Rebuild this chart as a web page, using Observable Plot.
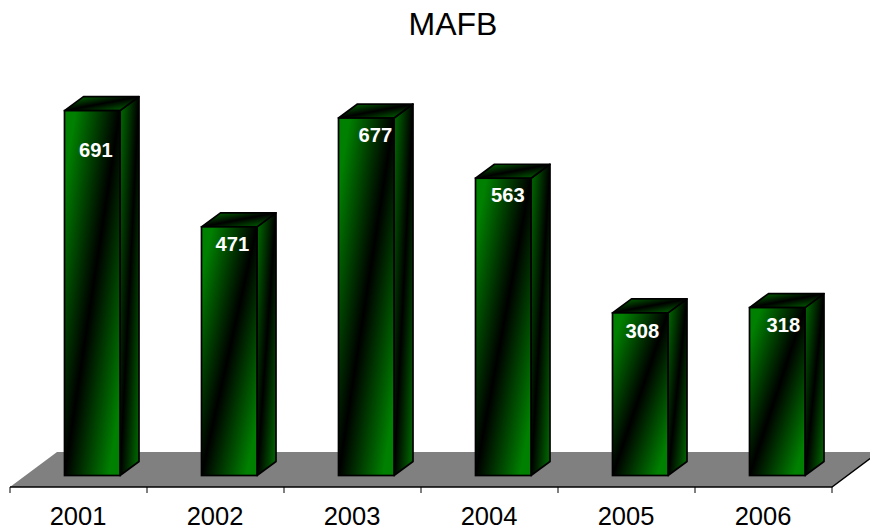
<!DOCTYPE html>
<html>
<head>
<meta charset="utf-8">
<script src="https://cdn.jsdelivr.net/npm/d3@7"></script>
<script src="https://cdn.jsdelivr.net/npm/@observablehq/plot@0.6"></script>
<style>
html,body{margin:0;padding:0;background:#fff;overflow:hidden}
#title{height:50px;line-height:49px;padding-left:36px;width:834px;text-align:center;font-family:"Liberation Sans",Arial,sans-serif;font-size:32px;color:#000}
svg{display:block}
</style>
</head>
<body>
<div id="title">MAFB</div>
<div id="chart"></div>
<script>
const years = ["2001","2002","2003","2004","2005","2006"];
const values = [691,471,677,563,308,318];

const rows = years.map((year,i)=>({year,value:values[i]}));
// label placement, in pixels from the bar's centre and top
const labelDx = [3.5,3,9,4.5,2,6];
const labelDy = [39,17,17,17,18,17];

const insetLeft = 54.5, insetRight = 27;   // front face within each band
const depthX = 19, depthY = 14;            // 3D extrusion of a bar
const floorX = 47, floorY = 35;            // floor extrusion
const axisGap = 11.5, tickLen = 6;
const strokeW = 1.7;

function grad(defs,id,color){
  const g = defs.append("linearGradient").attr("id",id)
    .attr("x1",0).attr("y1",0).attr("x2",1).attr("y2",1);
  [[0,color],[0.1,color],[0.5,"#000"],[0.9,color],[1,color]].forEach(([o,c])=>
    g.append("stop").attr("offset",o).attr("stop-color",c));
}

const poly = pts => "M"+pts.map(p=>p.join(",")).join("L")+"Z";

function floorMark(index,{x,y}){
  const g = d3.create("svg:g");
  const bw = x.bandwidth();
  const left = x(years[0]), right = x(years[years.length-1])+bw;
  const y0 = y(0)+axisGap;
  g.append("path").attr("fill","#808080")
    .attr("d",poly([[left,y0],[left+floorX,y0-floorY],[right+floorX,y0-floorY],[right,y0]]));
  g.append("path").attr("fill","none").attr("stroke","#000").attr("stroke-width",1.4)
    .attr("d",`M${left},${y0}L${right},${y0}L${right+floorX},${y0-floorY}`);
  for (const t of [...years.map(d=>x(d)),right]) {
    g.append("line").attr("x1",t).attr("x2",t).attr("y1",y0).attr("y2",y0+tickLen)
      .attr("stroke","#000").attr("stroke-width",1);
  }
  return g.node();
}

function facesMark(index,{x,y}){
  const g = d3.create("svg:g").attr("stroke","#000").attr("stroke-width",strokeW).attr("stroke-linejoin","round");
  const bw = x.bandwidth();
  rows.forEach(r=>{
    const l = x(r.year)+insetLeft, e = x(r.year)+bw-insetRight;
    const t = y(r.value), b = y(0);
    g.append("path").attr("fill","url(#sideGrad)")
      .attr("d",poly([[e,t],[e+depthX,t-depthY],[e+depthX,b-depthY],[e,b]]));
    g.append("path").attr("fill","url(#topGrad)")
      .attr("d",poly([[l,t],[l+depthX,t-depthY],[e+depthX,t-depthY],[e,t]]));
  });
  return g.node();
}

const chart = Plot.plot({
  width:870, height:479,
  marginLeft:10, marginRight:38, marginTop:3.1, marginBottom:53.5,
  style:{background:"transparent",fontFamily:"'Liberation Sans',Arial,sans-serif",overflow:"hidden"},
  x:{domain:years,padding:0,round:false,label:null,axis:null},
  y:{domain:[0,800],axis:null,label:null},
  marks:[
    floorMark,
    facesMark,
    Plot.barY(rows,{x:"year",y:"value",insetLeft,insetRight,fill:"url(#frontGrad)",stroke:"#000",strokeWidth:strokeW}),
    ...rows.map((r,i)=>Plot.text([r],{x:"year",y:"value",text:d=>String(d.value),
      dx:(insetLeft-insetRight)/2+labelDx[i]-0.3,dy:labelDy[i],fill:"#fff",fontWeight:"bold",fontSize:20.2})),
    Plot.axisX({anchor:"bottom",tickSize:0,tickPadding:31,dx:-1,fontSize:25.5,label:null,fill:"#000"})
  ]
});
const defs = d3.select(chart).insert("defs",":first-child");
grad(defs,"frontGrad","#008000");
grad(defs,"sideGrad","#005a00");
grad(defs,"topGrad","#006000");
document.getElementById("chart").appendChild(chart);
</script>
</body>
</html>
